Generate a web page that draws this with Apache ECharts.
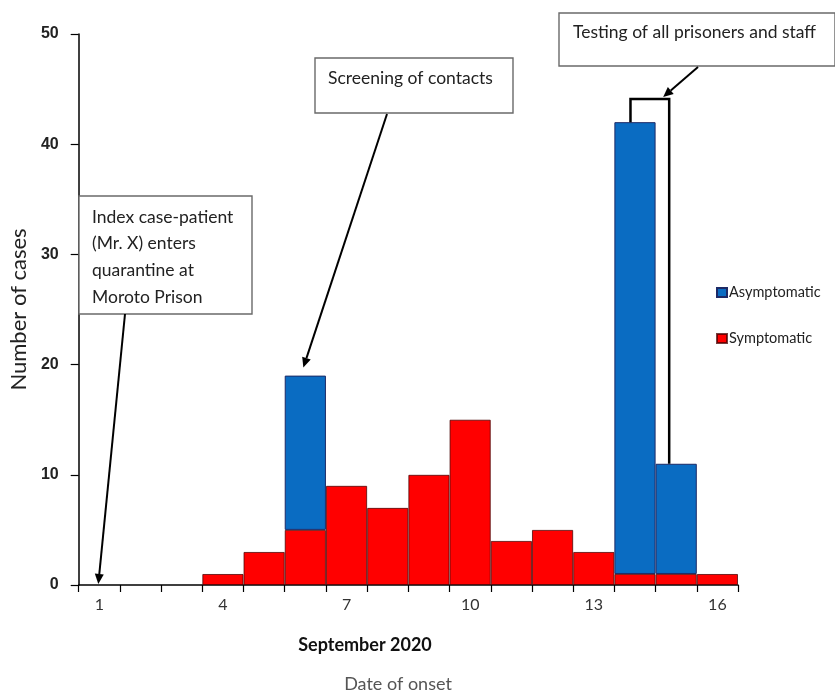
<!DOCTYPE html>
<html>
<head>
<meta charset="utf-8">
<script src="https://cdn.jsdelivr.net/npm/echarts@6/dist/echarts.min.js"></script>
<style>
html,body{margin:0;padding:0;background:#fff;}
#chart{width:835px;height:693px;}
</style>
</head>
<body>
<div id="chart"></div>
<script>
// ---- data ----
var days = ['1','2','3','4','5','6','7','8','9','10','11','12','13','14','15','16'];
var symptomatic  = [0,0,0,1,3,5,9,7,10,15,4,5,3,1,1,1];
var asymptomatic = [0,0,0,0,0,14,0,0,0,0,0,0,0,41,10,0];
var yTicks = [0,10,20,30,40,50];

var FONT = 'Lato, "Open Sans", sans-serif';
var chart = echarts.init(document.getElementById('chart'));

function nz(a){ return a.map(function(v){ return v === 0 ? null : v; }); }

chart.setOption({
  animation: false,
  backgroundColor: '#fff',
  grid: { left: 76, right: 97, top: 34, bottom: 108, containLabel: false },
  legend: {
    orient: 'vertical', left: 711, top: 280, itemGap: 31,
    itemWidth: 10, itemHeight: 9, icon: 'rect',
    data: ['Asymptomatic', 'Symptomatic'],
    textStyle: { fontFamily: FONT, fontSize: 14.5, color: '#222', padding: [0,0,0,-3] }
  },
  xAxis: {
    type: 'category', data: days, boundaryGap: true,
    axisLine: { lineStyle: { color: '#000', width: 1.5 } },
    axisTick: { show: true, interval: 0, length: 7, lineStyle: { color: '#000', width: 1.2 } },
    axisLabel: { interval: 2, margin: 12, fontFamily: FONT, fontSize: 16, color: '#333' }
  },
  yAxis: {
    type: 'value', min: yTicks[0], max: yTicks[yTicks.length-1], interval: 10,
    name: 'Number of cases', nameLocation: 'middle', nameGap: 47,
    nameTextStyle: { fontFamily: FONT, fontSize: 22, color: '#222' },
    axisLine: { show: true, lineStyle: { color: '#000', width: 1.5 } },
    axisTick: { show: true, length: 8, lineStyle: { color: '#000', width: 1.2 } },
    axisLabel: { margin: 20, fontFamily: 'Liberation Sans, Arial, sans-serif', fontWeight: 'bold', fontSize: 16, color: '#222' },
    splitLine: { show: false }
  },
  series: [
    { name: 'Symptomatic', type: 'bar', stack: 'c', data: nz(symptomatic),
      barWidth: '100%', barCategoryGap: '0%',
      itemStyle: { color: '#FF0000', borderColor: 'rgba(70,0,0,0.75)', borderWidth: 1 } },
    { name: 'Asymptomatic', type: 'bar', stack: 'c', data: nz(asymptomatic),
      barWidth: '100%', barCategoryGap: '0%',
      itemStyle: { color: '#0A6CC2', borderColor: '#1d2a66', borderWidth: 1 } }
  ]
});

function px(cat, val){ return chart.convertToPixel({ xAxisIndex: 0, yAxisIndex: 0 }, [cat, val]); }

function arrow(x1, y1, x2, y2){
  var ang = Math.atan2(y2 - y1, x2 - x1), L = 10, W = 4.5;
  var bx = x2 - L * Math.cos(ang), by = y2 - L * Math.sin(ang);
  var nx = -Math.sin(ang), ny = Math.cos(ang);
  return [
    { type: 'line', shape: { x1: x1, y1: y1, x2: bx, y2: by }, style: { stroke: '#000', lineWidth: 2 }, z: 20 },
    { type: 'polygon', shape: { points: [[x2, y2], [bx + nx*W, by + ny*W], [bx - nx*W, by - ny*W]] }, style: { fill: '#000' }, z: 20 }
  ];
}

function box(x, y, w, h){
  return { type: 'rect', shape: { x: x, y: y, width: w, height: h }, style: { fill: '#fff', stroke: '#6a6a6a', lineWidth: 1.4 }, z: 15 };
}
function txt(x, y, s, extra){
  var st = { text: s, x: x, y: y, fill: '#222', font: '17.5px ' + FONT, textVerticalAlign: 'middle', textAlign: 'left' };
  if (extra) for (var k in extra) st[k] = extra[k];
  return { type: 'text', style: st, z: 16 };
}

var g = [];
// Index case box + arrow
var p1 = px('1', 0);
g = g.concat(arrow(125, 314, p1[0] - 1, p1[1] - 1));
g.push(box(79, 196, 173, 118));
g.push(txt(92, 217, 'Index case-patient'));
g.push(txt(92, 243, '(Mr. X) enters'));
g.push(txt(92, 270, 'quarantine at'));
g.push(txt(92, 297, 'Moroto Prison'));

// Screening of contacts
var p6 = px('6', symptomatic[5] + asymptomatic[5]);
g = g.concat(arrow(387, 114, p6[0] - 2, p6[1] - 8));
g.push(box(315, 58, 198, 55));
g.push(txt(328, 78, 'Screening of contacts'));

// Testing bracket
var p14 = px('14', symptomatic[13] + asymptomatic[13]);
var p15 = px('15', symptomatic[14] + asymptomatic[14]);
var bl = p14[0] - 4.5, br = p15[0] - 7, bt = 99;
g.push({ type: 'polyline', shape: { points: [[bl, p14[1]], [bl, bt], [br, bt], [br, p15[1]]] }, style: { stroke: '#000', lineWidth: 2.5, fill: null }, z: 20 });
g = g.concat(arrow(698, 67, br - 6, bt - 2));
g.push(box(559, 13, 276, 53));
g.push(txt(573, 32, 'Testing of all prisoners and staff'));

// x-axis titles
g.push(txt(365, 645, 'September 2020', { textAlign: 'center', font: 'bold 18px ' + FONT, fill: '#111' }));
g.push(txt(398, 684, 'Date of onset', { textAlign: 'center', font: '18px ' + FONT, fill: '#555' }));

chart.setOption({ graphic: { elements: g } });
</script>
</body>
</html>
